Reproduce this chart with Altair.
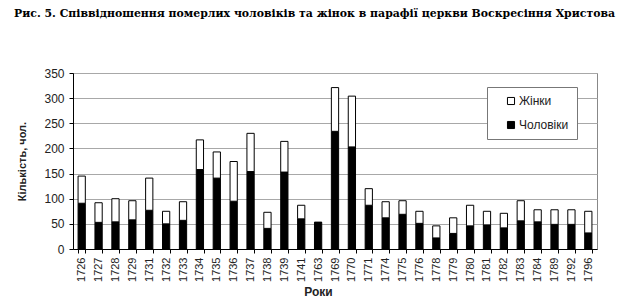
import altair as alt
import pandas as pd

years = ["1726", "1727", "1728", "1729", "1731", "1732", "1733", "1734", "1735", "1736",
         "1737", "1738", "1739", "1741", "1763", "1769", "1770", "1771", "1774", "1775",
         "1776", "1778", "1779", "1780", "1781", "1782", "1783", "1784", "1789", "1792", "1796"]
men = [91, 53, 54, 58, 77, 50, 57, 158, 141, 95,
       154, 41, 153, 60, 53, 234, 203, 87, 62, 69,
       51, 22, 31, 46, 48, 42, 56, 54, 49, 49, 32]
women = [54, 39, 46, 38, 64, 25, 37, 59, 52, 79,
         76, 32, 61, 27, 0, 87, 101, 33, 32, 27,
         24, 24, 31, 41, 27, 29, 40, 24, 29, 29, 43]
series = ["Жінки", "Чоловіки"]
y_ticks = [0, 50, 100, 150, 200, 250, 300, 350]

rows = []
for y, m, w in zip(years, men, women):
    rows.append({"year": y, "sex": "Чоловіки", "value": m, "ord": 0})
    rows.append({"year": y, "sex": "Жінки", "value": w, "ord": 1})
df = pd.DataFrame(rows)

FONT = "Liberation Sans"

chart = alt.Chart(df).mark_bar(stroke="black", strokeWidth=1).encode(
    x=alt.X("year:N", sort=years,
            scale=alt.Scale(paddingInner=0.57, paddingOuter=0.3),
            axis=alt.Axis(title="Роки", labelAngle=-90, tickBand="extent",
                          tickSize=4, labelPadding=4, labelFontSize=11,
                          titleFontSize=12, titleFontWeight="bold",
                          titleX=245, titleY=46, titleBaseline="alphabetic",
                          domainColor="black", tickColor="black",
                          labelColor="#222", titleColor="#222", grid=False)),
    y=alt.Y("value:Q", stack="zero",
            scale=alt.Scale(domain=[0, 350], nice=False),
            axis=alt.Axis(title="Кількість, чол.", values=y_ticks, tickSize=4,
                          labelPadding=5, labelFontSize=12, titleFontSize=11,
                          titleFontWeight="bold", titlePadding=16,
                          domainColor="black", tickColor="black",
                          labelColor="#222", titleColor="#222",
                          gridColor="#a8a8a8", gridWidth=1)),
    color=alt.Color("sex:N",
                    scale=alt.Scale(domain=series, range=["white", "black"]),
                    legend=alt.Legend(title=None, orient="none", legendX=414, legendY=14,
                                      padding=8, rowPadding=12, symbolOffset=10,
                                      symbolType="square", symbolSize=50,
                                      symbolStrokeColor="black", symbolStrokeWidth=1,
                                      labelFontSize=12, labelColor="#222", labelOffset=2,
                                      strokeColor="#777", fillColor="white")),
    order=alt.Order("ord:Q"),
).properties(
    width=524, height=176,
    padding={"left": 65, "top": 65, "right": 19, "bottom": 50},
    autosize=alt.AutoSizeParams(type="none"),
    title=alt.TitleParams(
        "Рис. 5. Співвідношення померлих чоловіків та жінок в парафії церкви Воскресіння Христова",
        anchor="start", frame="group", font="DejaVu Serif", fontSize=10.9,
        fontWeight="bold", color="black", dx=-59, offset=48),
).configure(font=FONT).configure_view(stroke="#888", strokeWidth=1)

chart.save("out.html", embed_options={"renderer": "svg", "actions": False})
